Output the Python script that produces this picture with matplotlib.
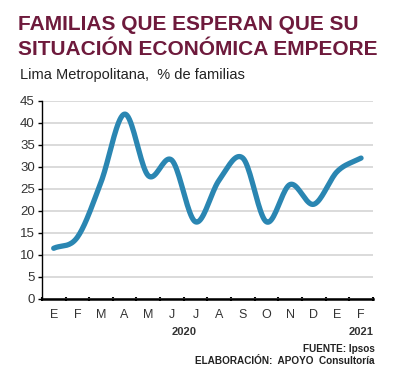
import matplotlib.pyplot as plt
import numpy as np

plt.rcParams['font.family'] = ['Liberation Sans', 'DejaVu Sans']

meses = ["E", "F", "M", "A", "M", "J", "J", "A", "S", "O", "N", "D", "E", "F"]
valores = [11.5, 14.0, 26.5, 42.0, 28.0, 31.5, 17.5, 27.0, 32.0, 17.5, 26.0, 21.5, 29.0, 32.0]
yticks = [0, 5, 10, 15, 20, 25, 30, 35, 40, 45]
anios = [("2020", 5.5), ("2021", 13)]

azul = "#2a86b2"
granate = "#6e1a3c"


def suavizar(x, y, n=20):
    # curva suave tipo Catmull-Rom (como la linea suavizada de Excel)
    x = np.asarray(x, float)
    y = np.asarray(y, float)
    px = np.concatenate([[2 * x[0] - x[1]], x, [2 * x[-1] - x[-2]]])
    py = np.concatenate([[2 * y[0] - y[1]], y, [2 * y[-1] - y[-2]]])
    xs, ys = [], []
    t = np.linspace(0, 1, n, endpoint=False)
    for i in range(1, len(px) - 2):
        for p, out in ((px, xs), (py, ys)):
            p0, p1, p2, p3 = p[i - 1], p[i], p[i + 1], p[i + 2]
            out.extend(0.5 * (2 * p1 + (-p0 + p2) * t
                              + (2 * p0 - 5 * p1 + 4 * p2 - p3) * t ** 2
                              + (-p0 + 3 * p1 - 3 * p2 + p3) * t ** 3))
    xs.append(x[-1])
    ys.append(y[-1])
    return np.array(xs), np.array(ys)


fig = plt.figure(figsize=(3.95, 3.75), dpi=100)
ax = fig.add_axes([0.106, 0.203, 0.838, 0.528])

x = np.arange(len(valores))
sx, sy = suavizar(x, valores)
ax.plot(sx, sy, color=azul, lw=3.8, solid_capstyle="round", zorder=3)

ax.set_xlim(-0.5, len(meses) - 0.5)
ax.set_ylim(0, 45)
ax.set_yticks(yticks)
ax.yaxis.grid(True, color="#d4d4d4", lw=1.2)
ax.set_axisbelow(True)

ax.set_xticks(x)
ax.set_xticklabels(meses)
ax.set_xticks(np.arange(-0.5, len(meses)), minor=True)
ax.tick_params(axis="x", which="major", length=0, pad=7, labelsize=9, labelcolor="#333333")
ax.tick_params(axis="x", which="minor", length=3, width=1.5, direction="inout")
ax.tick_params(axis="y", length=3, width=1, labelsize=9.5, labelcolor="#333333", pad=2)

for s in ["top", "right"]:
    ax.spines[s].set_visible(False)
ax.spines["left"].set_linewidth(1.0)
ax.spines["bottom"].set_linewidth(1.8)

for txt, xpos in anios:
    ax.annotate(txt, (xpos, 0), xycoords=("data", "axes fraction"),
                xytext=(0, -23.5), textcoords="offset points",
                ha="center", va="center", fontsize=8, fontweight="bold", color="#333333")

fig.text(0.045, 0.935, "FAMILIAS QUE ESPERAN QUE SU", fontsize=15, fontweight="bold",
         color=granate, ha="left", va="center")
fig.text(0.045, 0.867, "SITUACIÓN ECONÓMICA EMPEORE", fontsize=15, fontweight="bold",
         color=granate, ha="left", va="center")
fig.text(0.05, 0.8, "Lima Metropolitana,  % de familias", fontsize=10.5,
         color="#222222", ha="left", va="center")

fig.text(0.949, 0.07, "FUENTE: Ipsos", fontsize=7.2, fontweight="bold",
         color="#222222", ha="right", va="center")
fig.text(0.949, 0.037, "ELABORACIÓN:  APOYO  Consultoría", fontsize=7.2, fontweight="bold",
         color="#222222", ha="right", va="center")

fig.savefig("out.png", dpi=100)
